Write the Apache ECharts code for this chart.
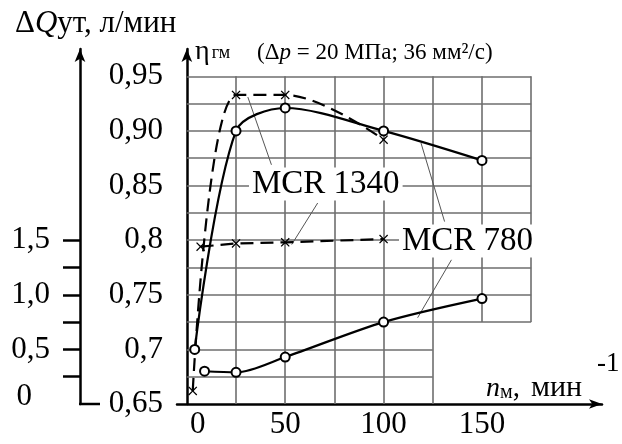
<!DOCTYPE html>
<html>
<head>
<meta charset="utf-8">
<script src="https://cdn.jsdelivr.net/npm/echarts@6/dist/echarts.min.js"></script>
<style>
  html, body { margin: 0; padding: 0; background: #fff; }
  #chart { width: 622px; height: 444px; }
</style>
</head>
<body>
<div id="chart"></div>
<script>
// оси
let nTicks = [0, 50, 100, 150];
let etaTicks = [0.65, 0.7, 0.75, 0.8, 0.85, 0.9, 0.95];
let etaLabels = ['0,65', '0,7', '0,75', '0,8', '0,85', '0,90', '0,95'];
let dqTicks = [0.25, 0.5, 0.75, 1.0, 1.25, 1.5];
let dqLabelValues = [0, 0.5, 1.0, 1.5];
let dqLabels = ['0', '0,5', '1,0', '1,5'];

// КПД гидромеханический, MCR 780 (сплошная, кружки)
let eta780 = [[4, 0.70], [25, 0.90], [50, 0.921], [100, 0.90], [150, 0.873]];
// КПД гидромеханический, MCR 1340 (штрих, крестики)
let eta1340 = [[3, 0.662], [25, 0.933], [50, 0.933], [100, 0.892]];
// утечки, MCR 780
let dq780 = [[9, 0.30], [25, 0.29], [50, 0.43], [100, 0.75], [150, 0.965]];
// утечки, MCR 1340
let dq1340 = [[7, 1.44], [25, 1.47], [50, 1.48], [100, 1.51]];

// сетка (в координатах n, eta)
let gridFullX = [25, 50, 75, 100, 125];
let gridShortX = [150, 175];
let gridLowY = [0.675, 0.7];
let gridHighY = [0.725, 0.75, 0.775, 0.8, 0.825, 0.85, 0.875, 0.9, 0.925, 0.95];

// выноски
let leaders = [
  [[31, 0.931], [43, 0.869]],
  [[66.5, 0.834], [53.3, 0.796]],
  [[119, 0.889], [131, 0.817]],
  [[134.5, 0.782], [117.3, 0.729]]
];

let gridSegs = [];
gridFullX.forEach(function (x) { gridSegs.push({ coords: [[x, 0.65], [x, 0.95]] }); });
gridShortX.forEach(function (x) { gridSegs.push({ coords: [[x, 0.725], [x, 0.95]] }); });
gridLowY.forEach(function (y) { gridSegs.push({ coords: [[0, y], [125, y]] }); });
gridHighY.forEach(function (y) { gridSegs.push({ coords: [[0, y], [175, y]] }); });

let FONT = 'Liberation Serif';
let xMark = 'path://M0,1L1,0L5,4L9,0L10,1L6,5L10,9L9,10L5,6L1,10L0,9L4,5Z';

let chart = echarts.init(document.getElementById('chart'));

let option = {
  animation: false,
  backgroundColor: '#fff',
  grid: { left: 177, right: 20, top: 49, bottom: 40 },
  xAxis: {
    type: 'value',
    min: -5,
    max: 211,
    splitLine: { show: false },
    axisTick: { show: false },
    axisLine: {
      onZero: false,
      symbol: ['none', 'arrow'],
      symbolSize: [7, 13],
      lineStyle: { color: '#000', width: 2.5 }
    },
    axisLabel: {
      customValues: nTicks,
      margin: 5,
      color: '#000',
      fontFamily: FONT,
      fontSize: 31,
      formatter: function (v) { return v === 0 ? '{z|0}' : String(v); },
      rich: { z: { fontFamily: FONT, fontSize: 31, color: '#000', padding: [0, 0, 0, 22] } }
    }
  },
  yAxis: [
    {
      type: 'value',
      min: 0.65,
      max: 0.975,
      splitLine: { show: false },
      axisTick: { show: false },
      axisLine: {
        onZero: true,
        symbol: ['none', 'arrow'],
        symbolSize: [8, 13],
        lineStyle: { color: '#000', width: 2.5 }
      },
      axisLabel: {
        customValues: etaTicks,
        margin: 14,
        color: '#000',
        fontFamily: FONT,
        fontSize: 31,
        formatter: function (v) {
          let i = etaTicks.findIndex(function (t) { return Math.abs(t - v) < 1e-6; });
          return i >= 0 ? etaLabels[i] : '';
        }
      }
    },
    {
      type: 'value',
      position: 'left',
      offset: 97,
      min: 0,
      max: 3.25,
      splitLine: { show: false },
      axisLine: {
        show: true,
        onZero: false,
        symbol: ['none', 'arrow'],
        symbolSize: [8, 13],
        lineStyle: { color: '#000', width: 2.5 }
      },
      axisTick: {
        show: true,
        customValues: dqTicks,
        length: 17,
        lineStyle: { color: '#000', width: 2.5 }
      },
      axisLabel: {
        customValues: dqLabelValues,
        margin: 30,
        color: '#000',
        fontFamily: FONT,
        fontSize: 31,
        formatter: function (v) {
          let i = dqLabelValues.findIndex(function (t) { return Math.abs(t - v) < 1e-6; });
          if (i === 0) return '{z|0}';
          return i >= 0 ? dqLabels[i] : '';
        },
        rich: { z: { fontFamily: FONT, fontSize: 31, color: '#000', padding: [0, 18, 14, 0] } }
      }
    }
  ],
  graphic: [
    { type: 'line', shape: { x1: 79, y1: 404, x2: 100, y2: 404 }, style: { stroke: '#000', lineWidth: 2.5 } },
    {
      type: 'text', x: 15, y: 24, z: 100,
      style: {
        text: '{a|Δ}{q|Q}{a|ут, л/мин}',
        verticalAlign: 'middle',
        rich: {
          a: { fontFamily: FONT, fontSize: 31, fill: '#000' },
          q: { fontFamily: FONT, fontSize: 31, fontStyle: 'italic', fill: '#000' }
        }
      }
    },
    {
      type: 'text', x: 195, y: 52, z: 100,
      style: {
        text: '{e|η}{g|гм}',
        verticalAlign: 'middle',
        rich: {
          e: { fontFamily: FONT, fontSize: 28, fill: '#000', verticalAlign: 'bottom', lineHeight: 28 },
          g: { fontFamily: FONT, fontSize: 18, fill: '#000', verticalAlign: 'bottom', lineHeight: 18, padding: [0, 0, 4, 2] }
        }
      }
    },
    {
      type: 'text', x: 257, y: 53, z: 100,
      style: {
        text: '{p|(Δ}{pi|p}{p| = 20 МПа; 36 мм²/с)}',
        verticalAlign: 'middle',
        rich: {
          p: { fontFamily: FONT, fontSize: 23, fill: '#000', verticalAlign: 'bottom', lineHeight: 23 },
          pi: { fontFamily: FONT, fontSize: 23, fontStyle: 'italic', fill: '#000', verticalAlign: 'bottom', lineHeight: 23 }
        }
      }
    },
    {
      type: 'text', x: 249, y: 184, z: 100,
      style: {
        text: 'MCR 1340', fontFamily: FONT, fontSize: 33, fill: '#000',
        verticalAlign: 'middle', backgroundColor: '#fff', padding: [0, 3]
      }
    },
    {
      type: 'text', x: 399, y: 241, z: 100,
      style: {
        text: 'MCR 780', fontFamily: FONT, fontSize: 33, fill: '#000',
        verticalAlign: 'middle', backgroundColor: '#fff', padding: [0, 3]
      }
    },
    {
      type: 'text', x: 486, y: 389, z: 100,
      style: {
        text: '{n|n}{m|м}{a|,}{b|мин}',
        verticalAlign: 'middle',
        rich: {
          n: { fontFamily: FONT, fontSize: 28, fontStyle: 'italic', fill: '#000', verticalAlign: 'bottom', lineHeight: 28 },
          m: { fontFamily: FONT, fontSize: 20, fill: '#000', verticalAlign: 'bottom', lineHeight: 20 },
          a: { fontFamily: FONT, fontSize: 29, fill: '#000', verticalAlign: 'bottom', lineHeight: 28 },
          b: { fontFamily: FONT, fontSize: 30, fill: '#000', verticalAlign: 'bottom', lineHeight: 28, padding: [0, 0, 0, 11] }
        }
      }
    },
    {
      type: 'text', x: 597, y: 364, z: 100,
      style: { text: '-1', fontFamily: FONT, fontSize: 27, fill: '#000', verticalAlign: 'middle' }
    }
  ],
  series: [
    {
      name: 'сетка',
      type: 'lines',
      coordinateSystem: 'cartesian2d',
      xAxisIndex: 0,
      yAxisIndex: 0,
      silent: true,
      z: 1,
      lineStyle: { color: '#6e6e6e', width: 1.6, opacity: 1 },
      data: gridSegs
    },
    {
      name: 'выноски',
      type: 'lines',
      coordinateSystem: 'cartesian2d',
      xAxisIndex: 0,
      yAxisIndex: 0,
      silent: true,
      z: 3,
      lineStyle: { color: '#555', width: 1, opacity: 1 },
      data: leaders.map(function (l) { return { coords: l }; })
    },
    {
      name: 'ηгм MCR 780',
      type: 'line',
      yAxisIndex: 0,
      data: eta780,
      smooth: 0.3,
      symbol: 'emptyCircle',
      symbolSize: 9,
      lineStyle: { color: '#000', width: 2.2 },
      itemStyle: { color: '#000', borderWidth: 1.8 },
      z: 4
    },
    {
      name: 'ηгм MCR 1340',
      type: 'line',
      yAxisIndex: 0,
      data: eta1340,
      smooth: 0.35,
      symbol: xMark,
      symbolSize: 9,
      lineStyle: { color: '#000', width: 2.2, type: [13, 7] },
      itemStyle: { color: '#000' },
      z: 4
    },
    {
      name: 'ΔQут MCR 780',
      type: 'line',
      yAxisIndex: 1,
      data: dq780,
      smooth: 0.3,
      symbol: 'emptyCircle',
      symbolSize: 9,
      lineStyle: { color: '#000', width: 2.2 },
      itemStyle: { color: '#000', borderWidth: 1.8 },
      z: 4
    },
    {
      name: 'ΔQут MCR 1340',
      type: 'line',
      yAxisIndex: 1,
      data: dq1340,
      symbol: xMark,
      symbolSize: 9,
      lineStyle: { color: '#000', width: 2.2, type: [13, 7] },
      itemStyle: { color: '#000' },
      z: 4
    }
  ]
};

chart.setOption(option);
</script>
</body>
</html>
